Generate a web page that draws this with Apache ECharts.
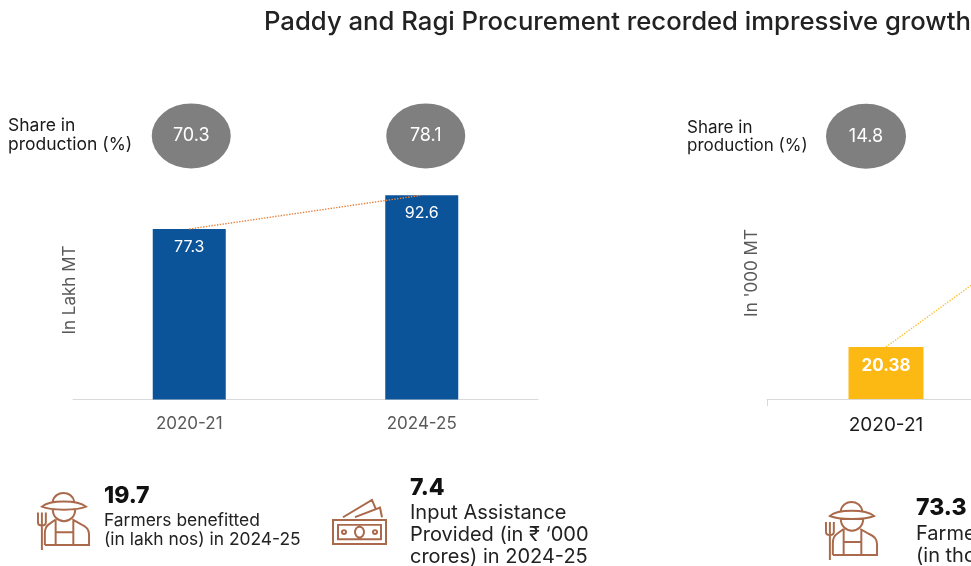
<!DOCTYPE html>
<html><head><meta charset="utf-8">
<style>html,body{margin:0;padding:0;background:#fff;overflow:hidden}#c{width:971px;height:566px}</style>
<script src="https://cdn.jsdelivr.net/npm/echarts@6/dist/echarts.min.js"></script>
</head><body><div id="c"></div>
<script>
const years = ['2020-21','2024-25'];
const paddy = [77.3,92.6];
const paddyShare = [70.3,78.1];
const ragi = [20.38,88];
const ragiShare = [14.8,null];
const FONT = 'Inter, "Open Sans", sans-serif';
const farmerPath = 'M17 15C19 3 37 3 39 15M6 20C14 13 42 13 51 20C42 24 15 24 6 20ZM17 22C17 39 40 39 40 22M20 33L13 38C10 40 9 43 9 47L9 59M37 33L46 38C51 40 54 44 54 48L54 59L9 59M20 33L20 59M38 33L38 59M20 46L38 46M2 26L2 36C2 40 10 40 10 36L10 26M6 26L6 64';
const moneyPath = 'M2 23L55 23L55 48L2 48ZM7 28L50 28L50 43L7 43ZM24 35.5A4 5 0 1 0 33 35.5A4 5 0 1 0 24 35.5ZM11 35.5A2 2 0 1 0 15 35.5A2 2 0 1 0 11 35.5ZM42 35.5A2 2 0 1 0 46 35.5A2 2 0 1 0 42 35.5ZM12 20L41 2L45 12M24 20L49 10L51 20';
function icon(d,vw,vh,x,y,w,h){
  const svg='<svg xmlns="http://www.w3.org/2000/svg" width="'+w*2+'" height="'+h*2+'" viewBox="0 0 '+vw+' '+vh+'" preserveAspectRatio="none"><path d="'+d+'" fill="none" stroke="#A9694A" stroke-width="2"/></svg>';
  return {type:'image',x:x,y:y,style:{image:'data:image/svg+xml;charset=utf-8,'+encodeURIComponent(svg),width:w,height:h}};
}
function txt(s,x,y,size,color,weight,rot){
  const o={type:'text',x:x,y:y,style:{text:s,fontFamily:FONT,fontSize:size,fontWeight:weight||400,fill:color||'#222',verticalAlign:'middle',align:'left',lineHeight:size*1.1}};
  if(rot){o.rotation=Math.PI/2;o.style.align='center';}
  return o;
}
function axisX(idx,color,size,margin,tick){
  return {type:'category',gridIndex:idx,data:years,axisLine:{lineStyle:{color:'#D9D9D9',width:1}},
    axisTick:{show:tick,length:7,lineStyle:{color:'#D9D9D9'}},axisLabel:{color:color,fontSize:size,fontFamily:FONT,margin:margin}};
}
function axisY(idx,max){return {type:'value',gridIndex:idx,min:0,max:max,show:false,splitLine:{show:false}};}
function bars(idx,vals,color,size,weight,bw){
  return {type:'bar',xAxisIndex:idx,yAxisIndex:idx,data:vals,barWidth:bw,itemStyle:{color:color},
    label:{show:true,position:'insideTop',distance:10,color:'#fff',fontSize:size,fontWeight:weight,fontFamily:FONT},z:2};
}
function link(idx,vals,color){
  return {type:'line',xAxisIndex:idx,yAxisIndex:idx,data:vals,symbol:'none',silent:true,z:3,
    lineStyle:{color:color,type:'dotted',width:1.4}};
}
function bubbles(idx,shares,yPos,offs,w,h){
  return {type:'scatter',xAxisIndex:idx,yAxisIndex:idx,silent:true,z:3,clip:false,
    data:shares.map((s,i)=>s==null?null:{value:[i,yPos],share:s,symbolOffset:[offs[i],0]}).filter(Boolean),
    symbol:'circle',symbolSize:[w,h],itemStyle:{color:'#7F7F7F',opacity:1},
    label:{show:true,position:'inside',color:'#fff',fontSize:18,fontFamily:FONT,
      formatter:p=>p.data.share.toFixed(1)}};
}
const chart=echarts.init(document.getElementById('c'),null,{renderer:'canvas'});
chart.setOption({
  animation:false,backgroundColor:'#fff',
  grid:[{left:73,top:99.5,width:465,height:300,outerBoundsMode:'none'},
        {left:767,top:99,width:476,height:300,outerBoundsMode:'none'}],
  xAxis:[axisX(0,'#595959',17,16,false),axisX(1,'#1a1a1a',19,17,true)],
  yAxis:[axisY(0,136),axisY(1,117.6)],
  series:[
    bars(0,paddy,'#0B5499',16,400,73),
    link(0,paddy,'#E8803A'),
    bubbles(0,paddyShare,119.5,[2,4],79,65),
    bars(1,ragi,'#FDB913',17,700,75),
    link(1,ragi,'#FDC234'),
    bubbles(1,ragiShare,103,[-20],80,65)
  ],
  graphic:{elements:[
    txt('Paddy and Ragi Procurement recorded impressive growth',264,22,25.7,'#222',500),
    txt('Share in\nproduction (%)',8,135,17.5,'#1a1a1a'),
    txt('Share in\nproduction (%)',687,137,17,'#1a1a1a'),
    txt('In Lakh MT',70,290,17,'#595959',400,true),
    txt("In '000 MT",752,273,17,'#595959',400,true),
    icon(farmerPath,56,64,36,487,55,63),
    txt('19.7',104,496,23,'#111',800),
    txt('Farmers benefitted\n(in lakh nos) in 2024-25',104,530,17.4,'#222'),
    icon(moneyPath,57,50,331,498,57,48),
    txt('7.4',410,488,23,'#111',800),
    txt('Input Assistance\nProvided (in ₹ \u2018000\ncrores) in 2024-25',410,535,20,'#222'),
    icon(farmerPath,56,64,824,496,55,64),
    txt('73.3',916,508,23,'#111',800),
    txt('Farmers benefitted\n(in thousand nos) in 2024-25',916,545,20,'#222')
  ]}
});
</script></body></html>
